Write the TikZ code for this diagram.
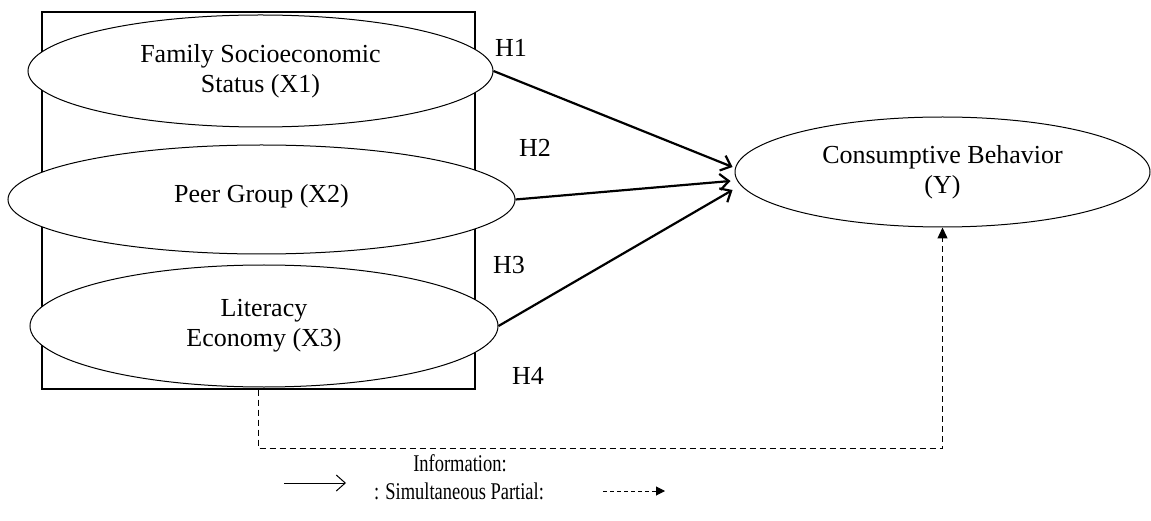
\documentclass[tikz,border=0pt]{standalone}
\usepackage{fontspec}
\setmainfont{Liberation Serif}
\newfontfamily\legfont[FakeStretch=0.77]{Liberation Serif}
\usetikzlibrary{arrows.meta,shapes.geometric}
\begin{document}
\begin{tikzpicture}[x=1pt,y=-1pt,
 ell/.style={ellipse,draw,fill=white,line width=1pt,inner sep=0pt,align=center,font=\fontsize{26}{30}\selectfont},
 hyp/.style={font=\fontsize{26}{30}\selectfont,inner sep=0pt},
 leg/.style={font=\legfont\fontsize{24}{28}\selectfont,inner sep=0pt},
 solidarr/.style={line width=2.2pt,-{Straight Barb[length=9pt,width=16pt]}},
 dasharr/.style={line width=1.4pt,dash pattern=on 6pt off 4pt,-{Triangle[length=11pt,width=10pt]}}]
\useasboundingbox (0,0) rectangle (1151,521);
\node[draw,line width=1.2pt,minimum width=433pt,minimum height=377pt,inner sep=0pt] (box) at (258.5,200.5) {};
\node[ell,minimum width=465pt,minimum height=112pt] (x1) at (260.5,71) {Family Socioeconomic\\Status (X1)};
\node[ell,minimum width=507pt,minimum height=109pt] (x2) at (261.5,199.5) {\raisebox{13pt}{Peer Group (X2)}};
\node[ell,minimum width=468pt,minimum height=122pt] (x3) at (264,326) {Literacy\\Economy (X3)};
\node[ell,minimum width=415pt,minimum height=110pt] (y) at (942.5,172) {Consumptive Behavior\\(Y)};
\node[hyp] (h1) at (511,48) {H1};
\node[hyp] (h2) at (535,148) {H2};
\node[hyp] (h3) at (509,265) {H3};
\node[hyp] (h4) at (528,376) {H4};
\draw[solidarr] (x1.east) -- ([shift={(-2,-5)}]y.west);
\draw[solidarr] (x2.east) -- ([shift={(-4,9)}]y.west);
\draw[solidarr] (x3.east) -- ([shift={(-2,18)}]y.west);
\draw[dasharr] (box.south) -- ++(0,59) -| (y.south);
\node[leg] (info) at (460,463) {Information:};
\node[leg] (simpar) at (459,491) {: Simultaneous Partial:};
\coordinate (ls) at (284,483);
\coordinate (le) at (346,483);
\draw[line width=1pt,-{Straight Barb[length=9pt,width=16pt]}] (ls) -- (le);
\coordinate (ds) at (603,491);
\coordinate (de) at (665,491);
\draw[line width=1pt,dash pattern=on 4pt off 3pt,-{Triangle[length=9pt,width=9pt]}] (ds) -- (de);
\end{tikzpicture}
\end{document}
